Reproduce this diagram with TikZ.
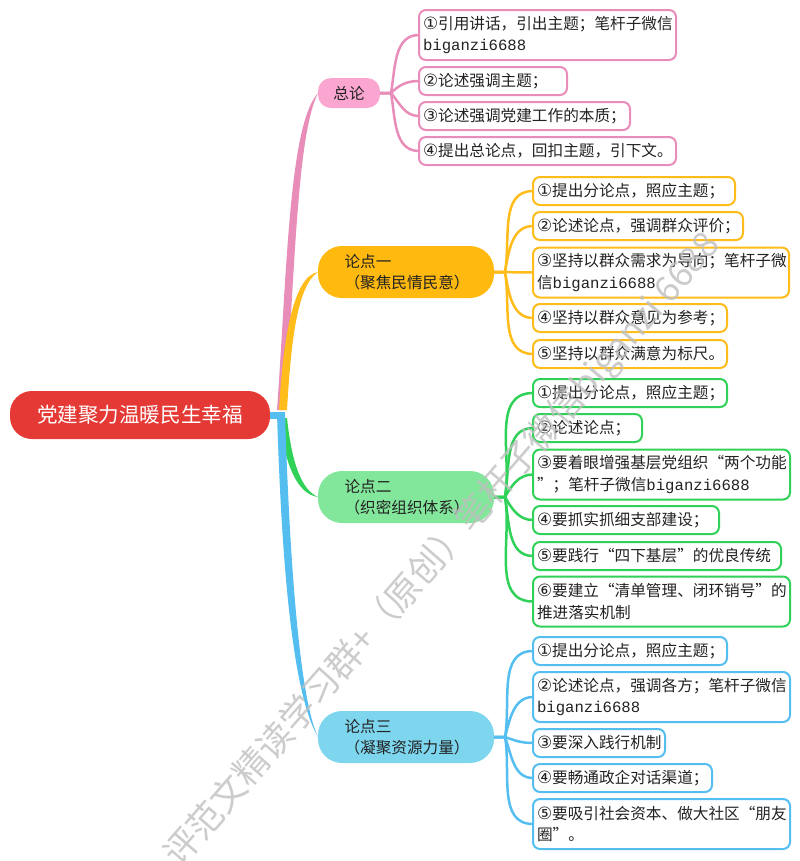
\documentclass[tikz,border=0pt]{standalone}
\usepackage{fontspec}
\setmainfont{Noto Sans CJK SC}
\newfontfamily\wxfont{Liberation Mono}
\newfontfamily\circfont[Scale=1.08]{DejaVu Sans}
\definecolor{rootred}{HTML}{E53935}
\definecolor{zongline}{HTML}{E88DB9}
\definecolor{zongfill}{HTML}{FBA6D0}
\definecolor{yiline}{HTML}{FFBC1A}
\definecolor{yifill}{HTML}{FFB90F}
\definecolor{erline}{HTML}{30D158}
\definecolor{erfill}{HTML}{82E69B}
\definecolor{sanline}{HTML}{55BEF0}
\definecolor{sanfill}{HTML}{7DD6EE}
\definecolor{inktext}{HTML}{222222}
\newcommand{\wxid}{{\wxfont biganzi6688}}
\newcommand{\cnum}[1]{{\circfont #1}}
\tikzset{
  leafbox/.style={draw, line width=0.04cm, fill=white, rounded corners=0.14cm, align=left,
    inner xsep=0.08cm, inner ysep=0cm, outer sep=0cm, anchor=west, minimum height=0.56cm,
    text=inktext, font=\fontsize{8.9}{12.2}\selectfont},
  twolines/.style={minimum height=1.0cm},
  topicbox/.style={rounded corners=0.48cm, align=left, inner xsep=0.53cm, inner ysep=0cm, outer sep=0cm,
    anchor=west, minimum height=1.04cm, text width=2.46cm, text=inktext,
    font=\fontsize{8.9}{12.2}\selectfont},
  twig/.style={line width=0.05cm},
  watermark/.style={text=gray!50, text opacity=0.8, font=\fontsize{20.1}{20.1}\selectfont, inner sep=0cm}
}
\begin{document}
\begin{tikzpicture}
\useasboundingbox (0,0) rectangle (16.00,-17.22);
{
% Marking the root
\node (root) [fill=rootred, text=white, rounded corners=0.44cm, minimum width=5.20cm, minimum height=0.96cm, inner sep=0cm, outer sep=0cm, font=\fontsize{11.7}{14}\selectfont] at (2.80,-8.30) {党建聚力温暖民生幸福};

% Marking the topics
\node (zonglun) [fill=zongfill, rounded corners=0.26cm, anchor=west, minimum width=1.24cm, minimum height=0.60cm, inner sep=0cm, outer sep=0cm, text=inktext, font=\fontsize{8.9}{12.2}\selectfont] at (6.36,-1.86) {总论};
\node (lunyi) [topicbox, fill=yifill] at (6.36,-5.44) {论点一\\（聚焦民情民意）};
\node (luner) [topicbox, fill=erfill] at (6.36,-9.94) {论点二\\（织密组织体系）};
\node (lunsan) [topicbox, fill=sanfill] at (6.36,-14.74) {论点三\\（凝聚资源力量）};

% Marking the leaves of the first topic
\node (zong1) [leafbox, draw=zongline, twolines, text width=4.98cm] at (8.38,-0.70) {\cnum{①}引用讲话，引出主题；笔杆子微信\\\wxid};
\node (zong2) [leafbox, draw=zongline, text width=2.80cm] at (8.38,-1.62) {\cnum{②}论述强调主题；};
\node (zong3) [leafbox, draw=zongline, text width=4.06cm] at (8.38,-2.32) {\cnum{③}论述强调党建工作的本质；};
\node (zong4) [leafbox, draw=zongline, text width=4.98cm] at (8.38,-3.02) {\cnum{④}提出总论点，回扣主题，引下文。};

% Marking the leaves of the second topic
\node (yi1) [leafbox, draw=yiline, text width=3.88cm] at (10.66,-3.82) {\cnum{①}提出分论点，照应主题；};
\node (yi2) [leafbox, draw=yiline, text width=4.04cm] at (10.66,-4.52) {\cnum{②}论述论点，强调群众评价；};
\node (yi3) [leafbox, draw=yiline, twolines, text width=4.96cm] at (10.66,-5.45) {\cnum{③}坚持以群众需求为导向；笔杆子微\\信\wxid};
\node (yi4) [leafbox, draw=yiline, text width=3.72cm] at (10.66,-6.36) {\cnum{④}坚持以群众意见为参考；};
\node (yi5) [leafbox, draw=yiline, text width=3.72cm] at (10.66,-7.08) {\cnum{⑤}坚持以群众满意为标尺。};

% Marking the leaves of the third topic
\node (er1) [leafbox, draw=erline, text width=3.72cm] at (10.66,-7.86) {\cnum{①}提出分论点，照应主题；};
\node (er2) [leafbox, draw=erline, text width=2.02cm] at (10.66,-8.56) {\cnum{②}论述论点；};
\node (er3) [leafbox, draw=erline, twolines, text width=4.98cm] at (10.66,-9.49) {\cnum{③}要着眼增强基层党组织“两个功能\\”；笔杆子微信\wxid};
\node (er4) [leafbox, draw=erline, text width=3.56cm] at (10.66,-10.40) {\cnum{④}要抓实抓细支部建设；};
\node (er5) [leafbox, draw=erline, text width=4.80cm] at (10.66,-11.12) {\cnum{⑤}要践行“四下基层”的优良传统};
\node (er6) [leafbox, draw=erline, twolines, text width=4.98cm] at (10.66,-12.03) {\cnum{⑥}要建立“清单管理、闭环销号”的\\推进落实机制};

% Marking the leaves of the fourth topic
\node (san1) [leafbox, draw=sanline, text width=3.72cm] at (10.66,-13.02) {\cnum{①}提出分论点，照应主题；};
\node (san2) [leafbox, draw=sanline, twolines, text width=4.98cm] at (10.66,-13.94) {\cnum{②}论述论点，强调各方；笔杆子微信\\\wxid};
\node (san3) [leafbox, draw=sanline, text width=2.48cm] at (10.66,-14.86) {\cnum{③}要深入践行机制};
\node (san4) [leafbox, draw=sanline, text width=3.42cm] at (10.66,-15.56) {\cnum{④}要畅通政企对话渠道；};
\node (san5) [leafbox, draw=sanline, twolines, text width=4.98cm] at (10.66,-16.48) {\cnum{⑤}要吸引社会资本、做大社区“朋友\\圈”。};

% Drawing the trunks from the root
\fill [zongline] (5.54,-8.20) .. controls (5.74,-5.40) and (5.78,-2.50) .. (zonglun.west) .. controls (5.94,-2.70) and (5.90,-5.40) .. (5.70,-8.20) -- cycle;
\fill [yiline] (5.58,-8.20) .. controls (5.66,-6.80) and (5.86,-5.52) .. (lunyi.west) .. controls (5.94,-5.72) and (5.82,-6.84) .. (5.74,-8.20) -- cycle;
\fill [erline] (5.58,-8.36) .. controls (5.70,-9.30) and (5.94,-9.88) .. (luner.west) .. controls (6.04,-9.80) and (5.84,-9.30) .. (5.74,-8.36) -- cycle;
\fill [sanline] (5.54,-8.28) .. controls (5.62,-10.80) and (5.80,-13.80) .. (lunsan.west) .. controls (5.96,-13.90) and (5.78,-10.80) .. (5.70,-8.28) -- cycle;
\draw [sanline, line width=0.14cm] (root.east) -- ++(0.30,0);

% Drawing the twigs of the first topic
\draw [twig, zongline] (zonglun.east) -- ++(0.22,0) to[out=80,in=180] (zong1.west);
\draw [twig, zongline] (zonglun.east) -- ++(0.22,0) to[out=45,in=180] (zong2.west);
\draw [twig, zongline] (zonglun.east) -- ++(0.22,0) to[out=-50,in=180] (zong3.west);
\draw [twig, zongline] (zonglun.east) -- ++(0.22,0) to[out=-80,in=180] (zong4.west);

% Drawing the twigs of the second topic
\draw [twig, yiline] (lunyi.east) -- ++(0.22,0) to[out=80,in=180] (yi1.west);
\draw [twig, yiline] (lunyi.east) -- ++(0.22,0) to[out=80,in=180] (yi2.west);
\draw [twig, yiline] (lunyi.east) -- (yi3.west);
\draw [twig, yiline] (lunyi.east) -- ++(0.22,0) to[out=-80,in=180] (yi4.west);
\draw [twig, yiline] (lunyi.east) -- ++(0.22,0) to[out=-80,in=180] (yi5.west);

% Drawing the twigs of the third topic
\draw [twig, erline] (luner.east) -- ++(0.22,0) to[out=80,in=180] (er1.west);
\draw [twig, erline] (luner.east) -- ++(0.22,0) to[out=80,in=180] (er2.west);
\draw [twig, erline] (luner.east) -- ++(0.22,0) to[out=60,in=180] (er3.west);
\draw [twig, erline] (luner.east) -- ++(0.22,0) to[out=-60,in=180] (er4.west);
\draw [twig, erline] (luner.east) -- ++(0.22,0) to[out=-80,in=180] (er5.west);
\draw [twig, erline] (luner.east) -- ++(0.22,0) to[out=-80,in=180] (er6.west);

% Drawing the twigs of the fourth topic
\draw [twig, sanline] (lunsan.east) -- ++(0.22,0) to[out=80,in=180] (san1.west);
\draw [twig, sanline] (lunsan.east) -- ++(0.22,0) to[out=75,in=180] (san2.west);
\draw [twig, sanline] (lunsan.east) -- ++(0.22,0) to[out=-20,in=180] (san3.west);
\draw [twig, sanline] (lunsan.east) -- ++(0.22,0) to[out=-70,in=180] (san4.west);
\draw [twig, sanline] (lunsan.east) -- ++(0.22,0) to[out=-80,in=180] (san5.west);

% Marking the watermark
\node (mark) [watermark, rotate=49, anchor=west] at (3.44,-17.24) {评范文精读学习群+（原创）笔杆子微信biganzi 6688};
}
\end{tikzpicture}
\end{document}
